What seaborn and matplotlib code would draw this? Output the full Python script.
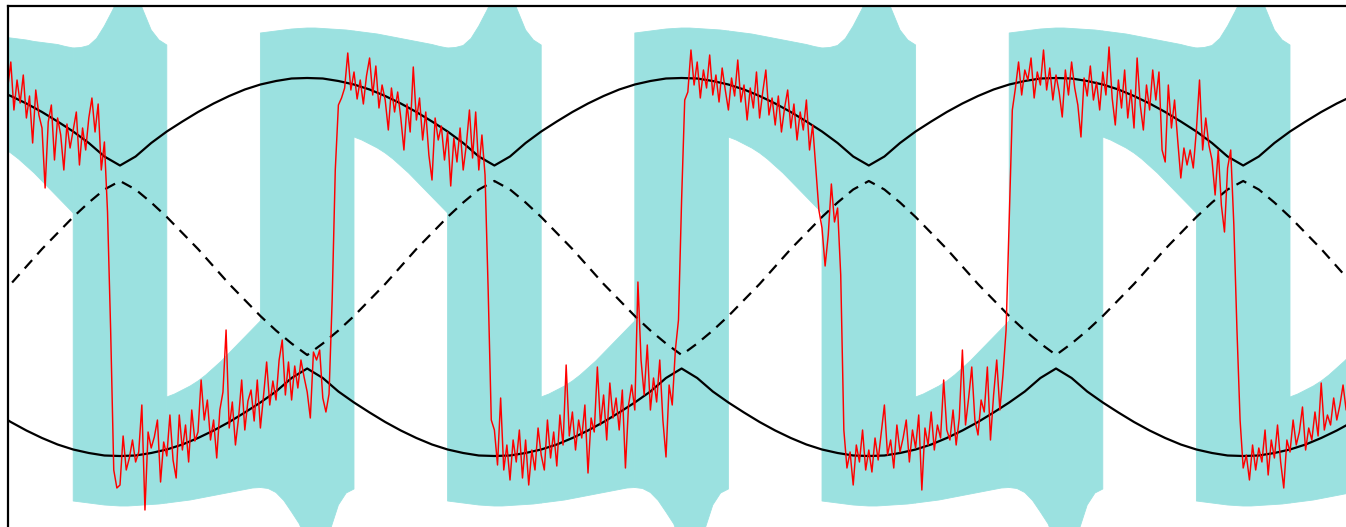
import numpy as np
import matplotlib
matplotlib.use("Agg")
import matplotlib.pyplot as plt
import seaborn as sns

N = np.nan

# ---------------- smooth curves (pixel-y values), one sample every 15.6 px from x=-4.8 ----------------
upper_curve = [89.5, 96, 103.5, 112, 121.5, 131.5, 143, 156.5,
               165.5, 156.5, 143, 131.5, 121.5, 112, 103.5, 96, 89.5, 84.5, 81, 78.5, 78, 78.5, 81, 84.5, 89.5, 96, 103.5, 112, 121.5, 131.5, 143, 156.5,
               165.5, 156.5, 143, 131.5, 121.5, 112, 103.5, 96, 89.5, 84.5, 81, 78.5, 78, 78.5, 81, 84.5, 89.5, 96, 103.5, 112, 121.5, 131.5, 143, 156.5,
               165.5, 156.5, 143, 131.5, 121.5, 112, 103.5, 96, 89.5, 84.5, 81, 78.5, 78, 78.5, 81, 84.5, 89.5, 96, 103.5, 112, 121.5, 131.5, 143, 156.5,
               165.5, 156.5, 143, 131.5, 121.5, 112, 103.5, 96]
lower_curve = [412.5, 422, 430.5, 438, 444.5, 449.5, 453, 455.5,
               456, 455.5, 453, 449.5, 444.5, 438, 430.5, 422, 412.5, 402.5, 391.5, 378, 368.5, 378, 391.5, 402.5, 412.5, 422, 430.5, 438, 444.5, 449.5, 453, 455.5,
               456, 455.5, 453, 449.5, 444.5, 438, 430.5, 422, 412.5, 402.5, 391.5, 378, 368.5, 378, 391.5, 402.5, 412.5, 422, 430.5, 438, 444.5, 449.5, 453, 455.5,
               456, 455.5, 453, 449.5, 444.5, 438, 430.5, 422, 412.5, 402.5, 391.5, 378, 368.5, 378, 391.5, 402.5, 412.5, 422, 430.5, 438, 444.5, 449.5, 453, 455.5,
               456, 455.5, 453, 449.5, 444.5, 438, 430.5, 422]
dashed_curve = [300, 284, 266.5, 249, 233, 217, 202.5, 189.5,
                181, 189.5, 202.5, 217, 233, 249, 266.5, 284, 300, 316, 330.5, 343.5, 355, 343.5, 330.5, 316, 300, 284, 266.5, 249, 233, 217, 202.5, 189.5,
                181, 189.5, 202.5, 217, 233, 249, 266.5, 284, 300, 316, 330.5, 343.5, 355, 343.5, 330.5, 316, 300, 284, 266.5, 249, 233, 217, 202.5, 189.5,
                181, 189.5, 202.5, 217, 233, 249, 266.5, 284, 300, 316, 330.5, 343.5, 355, 343.5, 330.5, 316, 300, 284, 266.5, 249, 233, 217, 202.5, 189.5,
                181, 189.5, 202.5, 217, 233, 249, 266.5, 284]

# ---------------- cyan band edges, one sample every 7.8 px from x=-4.8 ----------------
band_top = ([36, 37, 38, 39, 40, 41.5, 42.5, 43.5, 44.5, 46.5, 48, 47.5, 45.5, 38.5, 26, 11]
            + [-5, -20, -8, 11, 30, 40, 45] + [N] * 11
            + [33, 32, 31, 30, 29, 28.5, 28, 28, 28.5, 29, 29.5, 30, 31, 32, 33, 34, 35.5, 37, 38.5, 40,
               41.5, 43, 44.5, 46.5, 48, 47.5, 45.5, 38.5, 26, 11]
            + [-5, -20, -8, 11, 30, 40, 45] + [N] * 11
            + [33, 32, 31, 30, 29, 28.5, 28, 28, 28.5, 29, 29.5, 30, 31, 32, 33, 34, 35.5, 37, 38.5, 40,
               41.5, 43, 44.5, 46.5, 48, 47.5, 45.5, 38.5, 26, 11]
            + [-5, -20, -8, 11, 30, 40, 45] + [N] * 11
            + [33, 32, 31, 30, 29, 28.5, 28, 28, 28.5, 29, 29.5, 30, 31, 32, 33, 34, 35.5, 37, 38.5, 40,
               41.5, 43, 44.5, 46.5, 48, 47.5, 45.5, 38.5, 26, 11]
            + [-5, -20, -8, 11, 30, 40, 45] + [N] * 8)
band_bottom = ([N] * 10 + [501, 502, 503, 504, 505, 505.5]
               + [506, 506, 505.5, 505, 504.5, 504, 503, 502, 501, 500, 498.5, 497, 495.5, 494, 492.5, 491, 489.5, 488,
                  487.5, 488.5, 492.5, 500.5, 512, 524, 545, 560, 550, 529, 505, 493, 489]
               + [N] * 11 + [501, 502, 503, 504, 505, 505.5]
               + [506, 506, 505.5, 505, 504.5, 504, 503, 502, 501, 500, 498.5, 497, 495.5, 494, 492.5, 491, 489.5, 488,
                  487.5, 488.5, 492.5, 500.5, 512, 524, 545, 560, 550, 529, 505, 493, 489]
               + [N] * 11 + [501, 502, 503, 504, 505, 505.5]
               + [506, 506, 505.5, 505, 504.5, 504, 503, 502, 501, 500, 498.5, 497, 495.5, 494, 492.5, 491, 489.5, 488,
                  487.5, 488.5, 492.5, 500.5, 512, 524, 545, 560, 550, 529, 505, 493, 489]
               + [N] * 11 + [501, 502, 503, 504, 505, 505.5]
               + [506, 506, 505.5, 505, 504.5, 504, 503, 502, 501, 500, 498.5, 497, 495.5, 494, 492.5])
gap_upper_bottom = ([144, 148, 153, 159, 166, 173, 181, 189, 197, 205, 213] + [N] * 5
                    + [N] * 30 + [137, 140, 144, 148, 153, 159, 166, 173, 181, 189, 197, 205, 213] + [N] * 5
                    + [N] * 30 + [137, 140, 144, 148, 153, 159, 166, 173, 181, 189, 197, 205, 213] + [N] * 5
                    + [N] * 30 + [137, 140, 144, 148, 153, 159, 166, 173, 181, 189, 197, 205, 213] + [N] * 5
                    + [N] * 15)
gap_lower_top = ([N] * 16
                 + [N] * 6 + [397, 394, 390, 386, 381, 375, 368, 361, 353, 345, 337, 329, 321] + [N] * 29
                 + [N] * 6 + [397, 394, 390, 386, 381, 375, 368, 361, 353, 345, 337, 329, 321] + [N] * 29
                 + [N] * 6 + [397, 394, 390, 386, 381, 375, 368, 361, 353, 345, 337, 329, 321] + [N] * 29
                 + [N] * 6 + [397, 394, 390, 386, 381, 375, 368, 361, 353])

# ---------------- red noisy signal, one sample every 3.12 px from x=7.68 ----------------
signal = [
    88, 62, 110, 80, 103, 75, 118, 96, 143, 90,
    115, 128, 188, 122, 105, 160, 118, 135, 170, 124,
    148, 130, 112, 165, 128, 150, 118, 98, 132, 104,
    170, 142, 212, 330, 470, 488,
    485, 436, 470, 458, 440, 462, 452, 405, 510, 432,
    448, 437, 420, 482, 442, 456, 415, 460, 478, 415,
    450, 425, 462, 410, 441, 432, 380, 420, 400, 440,
    420, 458, 410, 392, 330, 428, 402, 445, 418, 380,
    430, 401, 390, 421, 380, 428, 396, 362, 405, 381,
    400, 360, 340, 395, 362, 400, 366, 388, 360, 377,
    392, 418, 352, 360, 350, 398, 412, 394, 300, 170,
    105,
    98, 88, 53, 90, 72, 99, 80, 104, 76, 58,
    95, 66, 108, 85, 100, 130, 88, 112, 92, 118,
    150, 104, 132, 67, 120, 98, 140, 112, 155, 180,
    118, 140, 126, 160, 132, 186, 138, 162, 128, 170,
    145, 110, 158, 112, 170, 135, 175, 290, 420,
    430, 465, 398, 470, 445, 480, 440, 462, 430, 478,
    440, 485, 450, 470, 428, 455, 470, 420, 458, 432,
    466, 415, 445, 365, 436, 412, 450, 420, 438, 405,
    473, 418, 432, 367, 425, 395, 440, 383, 418, 398,
    430, 390, 468, 405, 385, 410, 282, 360, 395, 345,
    410, 378, 402, 360, 420, 457, 385, 405, 350, 320,
    200, 100,
    92, 50, 85, 62, 98, 70, 88, 55, 95, 75,
    102, 68, 90, 110, 78, 96, 60, 102, 85, 120,
    88, 108, 72, 118, 92, 70, 115, 98, 125, 96,
    132, 108, 90, 128, 104, 140, 112, 130, 100, 150,
    125, 168, 210, 228, 266, 235, 184, 222, 208, 275,
    430, 468,
    452, 485, 445, 462, 430, 470, 450, 472, 438, 460,
    432, 405, 455, 440, 468, 425, 452, 438, 420, 462,
    430, 448, 415, 490, 428, 445, 412, 450, 425, 438,
    380, 430, 440, 410, 445, 418, 350, 425, 398, 367,
    420, 435, 400, 412, 367, 440, 395, 360, 410, 375,
    330, 220, 110,
    88, 62, 95, 70, 80, 58, 98, 72, 85, 50,
    90, 68, 100, 75, 92, 117, 70, 95, 62, 88,
    105, 137, 78, 96, 66, 100, 82, 110, 72, 95,
    47, 98, 125, 80, 108, 70, 118, 90, 128, 58,
    105, 130, 85, 110, 70, 100, 72, 150, 162, 85,
    128, 100, 140, 178, 148, 165, 150, 168, 130, 80,
    150, 118, 145, 160, 195, 150, 205, 232, 168, 150,
    225, 330, 420, 468,
    455, 480, 445, 470, 448, 462, 430, 475, 440, 458,
    425, 462, 488, 440, 452, 420, 445, 432, 407, 450,
    428, 440, 412, 436, 383, 430, 415, 425, 398, 420,
    405, 385, 410,
]

# ---------------- drawing ----------------
sns.set_style("white")
W, H = 1346, 527
fig = plt.figure(figsize=(W / 100, H / 100), dpi=100)
ax = fig.add_axes([8 / W, 0, 1 - 8 / W, (H - 5.5) / H])

x_curve = -4.8 + 15.6 * np.arange(len(upper_curve))
x_band = -4.8 + 7.8 * np.arange(len(band_top))
x_sig = 7.68 + 3.12 * np.arange(len(signal))

cyan = "#9be1e0"
bt = np.array(band_top, dtype=float)
bb = np.array(band_bottom, dtype=float)
gub = np.array(gap_upper_bottom, dtype=float)
glt = np.array(gap_lower_top, dtype=float)
for top, bot in [(bt, bb), (bt, gub), (glt, bb)]:
    ax.fill_between(x_band, top, bot, facecolor=cyan, edgecolor=cyan, linewidth=0.6, zorder=1)

sns.lineplot(x=x_curve, y=upper_curve, ax=ax, color="black", linewidth=1.6,
             estimator=None, sort=False, zorder=2)
sns.lineplot(x=x_curve, y=lower_curve, ax=ax, color="black", linewidth=1.6,
             estimator=None, sort=False, zorder=2)
sns.lineplot(x=x_curve, y=dashed_curve, ax=ax, color="black", linewidth=1.6,
             linestyle=(0, (5, 3.5)), estimator=None, sort=False, zorder=2)
sns.lineplot(x=x_sig, y=signal, ax=ax, color="#ff0000", linewidth=1.05,
             estimator=None, sort=False, zorder=3)

ax.set_xlim(8, W)
ax.set_ylim(H, 5.5)
ax.set_xticks([])
ax.set_yticks([])
ax.set_xlabel("")
ax.set_ylabel("")
for side in ("right", "bottom"):
    ax.spines[side].set_visible(False)
for side in ("left", "top"):
    ax.spines[side].set_color("black")
    ax.spines[side].set_linewidth(1.6)
    ax.spines[side].set_zorder(5)

fig.savefig("out.png", dpi=100)
